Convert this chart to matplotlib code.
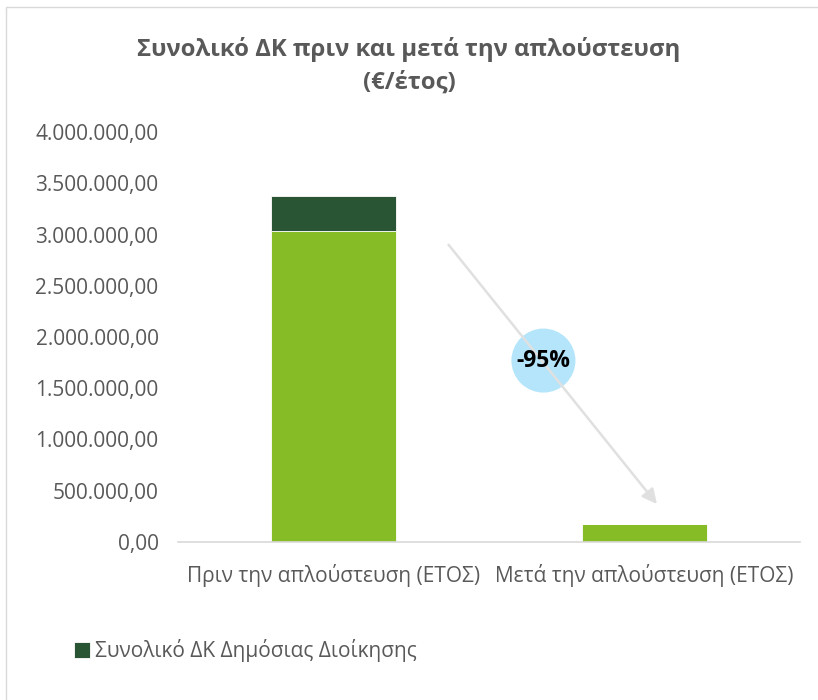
import matplotlib.pyplot as plt
from matplotlib.patches import Rectangle, Circle
from matplotlib.ticker import FuncFormatter
from matplotlib.transforms import IdentityTransform

plt.rcParams['font.family'] = ['Open Sans', 'DejaVu Sans']

categories = ['Πριν την απλούστευση (ΕΤΟΣ)', 'Μετά την απλούστευση (ΕΤΟΣ)']
citizens = [3030000, 172000]
public_admin = [342000, 0]
legend_label = 'Συνολικό ΔΚ Δημόσιας Διοίκησης'
title = 'Συνολικό ΔΚ πριν και μετά την απλούστευση\n(€/έτος)'
change_label = '-95%'
arrow_start = (0.37, 2900000)
arrow_end = (1.04, 370000)
bubble_center = (0.675, 1770000)

grey = '#595959'

fig = plt.figure(figsize=(8.18, 7.0), dpi=100)
ax = fig.add_axes([178 / 818, 1 - 542 / 700, 622 / 818, 410 / 700])

x = range(len(categories))
ax.bar(x, citizens, width=0.405, color='#86BC25', edgecolor='white', linewidth=0.6)
ax.bar(x, public_admin, width=0.405, bottom=citizens, color='#2A5535',
       edgecolor='white', linewidth=0.6, label=legend_label)

ax.set_xlim(-0.5, 1.5)
ax.set_ylim(0, 4000000)
ax.set_yticks(range(0, 4000001, 500000))

def fmt(v, pos):
    s = f'{v:,.2f}'
    return s.replace(',', 'X').replace('.', ',').replace('X', '.')

ax.yaxis.set_major_formatter(FuncFormatter(fmt))
ax.set_xticks(list(x))
ax.set_xticklabels(categories)
ax.tick_params(axis='both', length=0, labelsize=15, labelcolor=grey)
ax.tick_params(axis='x', pad=16)
ax.tick_params(axis='y', pad=14)
for s in ['top', 'right', 'left']:
    ax.spines[s].set_visible(False)
ax.spines['bottom'].set_color('#D9D9D9')
ax.spines['bottom'].set_linewidth(1.2)

bx, by = ax.transData.transform(bubble_center)
ax.add_patch(Circle((bx, by), 32, transform=IdentityTransform(),
                    facecolor='#B4E5FB', edgecolor='none', zorder=4,
                    clip_on=False))

ax.annotate('', xy=arrow_end, xytext=arrow_start,
            arrowprops=dict(arrowstyle='-|>', color='#E0E0E0', lw=1.8,
                            mutation_scale=22, shrinkA=0, shrinkB=0),
            zorder=5)

ax.text(*bubble_center, change_label, ha='center', va='center', fontsize=16.5,
        fontweight='bold', color='black', zorder=6)

fig.text(0.5, 1 - 66 / 700, title, ha='center', va='center', fontsize=17.2,
         fontweight='bold', color=grey, linespacing=1.45)

fig.legend(loc='center left', bbox_to_anchor=(55 / 818, 1 - 651 / 700),
           frameon=False, fontsize=15, labelcolor=grey, handlelength=0.8,
           handleheight=0.8, handletextpad=0.2)

fig.patches.append(Rectangle((6 / 818, -0.1), 1.0, 1 - 7 / 700 + 0.1,
                             transform=fig.transFigure, facecolor='none',
                             edgecolor='#D9D9D9', linewidth=1.0))

fig.savefig('out.png', dpi=100)
